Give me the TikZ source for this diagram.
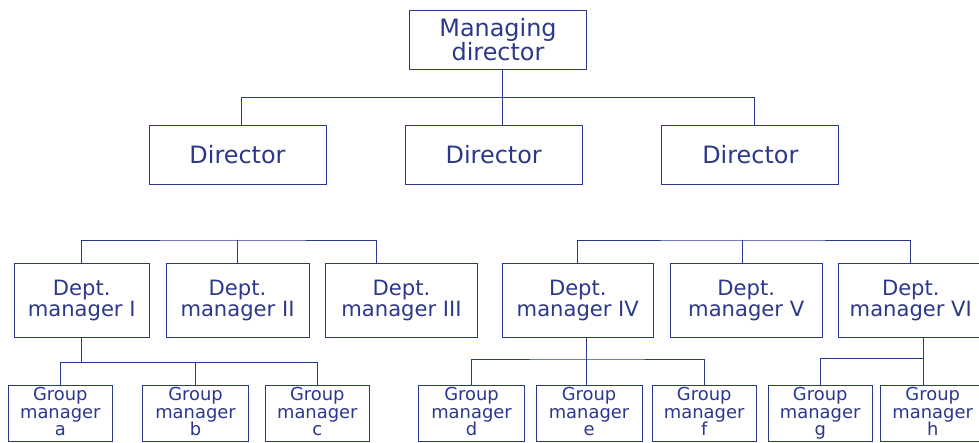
\documentclass[tikz,border=0pt]{standalone}
\usepackage{fontspec}
\setmainfont{DejaVu Sans}
\usepackage{tikz}
\definecolor{orgblue}{RGB}{44,56,138}

\begin{document}
\begin{tikzpicture}[x=1pt,y=-1pt]
                \tikzstyle{box}=[rectangle, draw=orgblue, line width=0.8pt, text=orgblue, align=center, inner sep=0pt]
                \tikzstyle{dirbox}=[box, font=\fontsize{23.9}{24}\selectfont, minimum height=59pt, minimum width=177pt]
                \tikzstyle{deptbox}=[box, font=\fontsize{21.1}{20.5}\selectfont, minimum height=73.7pt]
                \tikzstyle{grpbox}=[box, font=\fontsize{17.9}{17.7}\selectfont, minimum height=56.6pt, execute at end node=\vphantom{g}]
                \tikzstyle{edge} = [draw=orgblue, line width=0.8pt, -]

                \fill[white] (0,0) rectangle (979,443);
                \useasboundingbox (0,0) rectangle (979,443);
                \clip (0,0) rectangle (979,443);

                \node[dirbox] (md) at (498,39.7) {Managing\\director};
                \node[dirbox] (dir1) at (237.5,154.7) {Director};
                \node[dirbox] (dir2) at (493.7,154.7) {Director};
                \node[dirbox] (dir3) at (750.3,154.7) {Director};

                \node[deptbox, minimum width=134.7pt] (dep1) at (81.7,300.3) {Dept.\\manager I};
                \node[deptbox, minimum width=143pt] (dep2) at (237.5,300.3) {Dept.\\manager II};
                \node[deptbox, minimum width=151.6pt] (dep3) at (401.5,300.3) {Dept.\\manager III};
                \node[deptbox, minimum width=151.7pt] (dep4) at (577.8,300.3) {Dept.\\manager IV};
                \node[deptbox, minimum width=151.7pt] (dep5) at (746.2,300.3) {Dept.\\manager V};
                \node[deptbox, minimum width=145pt] (dep6) at (910.8,300.3) {Dept.\\manager VI};

                \node[grpbox, minimum width=104pt] (ga) at (60.3,413.5) {Group\\manager\\a};
                \node[grpbox, minimum width=105.6pt] (gb) at (195.5,413.5) {Group\\manager\\b};
                \node[grpbox, minimum width=104pt] (gc) at (317.3,413.5) {Group\\manager\\c};
                \node[grpbox, minimum width=105.6pt] (gd) at (471.5,413.5) {Group\\manager\\d};
                \node[grpbox, minimum width=106pt] (ge) at (589,413.5) {Group\\manager\\e};
                \node[grpbox, minimum width=104.3pt] (gf) at (704.2,413.5) {Group\\manager\\f};
                \node[grpbox, minimum width=103.7pt] (gg) at (820.2,413.5) {Group\\manager\\g};
                \node[grpbox, minimum width=105pt] (gh) at (932.7,413.5) {Group\\manager\\h};

                \coordinate (mdj) at (502,97.7);
                \coordinate (lj) at (237.3,240);
                \coordinate (rj) at (742,240);
                \coordinate (g1j) at (81.7,362.3);
                \coordinate (g4j) at (586.3,359);
                \coordinate (g6j) at (923,358.3);

                \path[edge] (mdj |- md.south) -- (mdj |- dir2.north);
                \path[edge] ([xshift=4pt]dir1.north) |- (mdj) -| ([xshift=4pt]dir3.north);

                \path[edge] (dep1.north) |- (lj) -| ([xshift=-25.2pt]dep3.north);
                \path[edge] (dep4.north) |- (rj) -| (dep6.north);

                \foreach \join/ \dest in {lj/dep2, rj/dep5}
                \path[edge] (\join) -- (\join |- \dest.north);

                \path[edge] (dep1.south) -- (g1j);
                \path[edge] (ga.north) |- (g1j) -| (gc.north);
                \path[edge] (gb.north |- g1j) -- (gb.north);

                \path[edge] (g4j |- dep4.south) -- (g4j |- ge.north);
                \path[edge] (gd.north) |- (g4j) -| (gf.north);

                \path[edge] (g6j |- dep6.south) -- (g6j |- gh.north);
                \path[edge] (gg.north) |- (g6j);
            \end{tikzpicture}
\end{document}
